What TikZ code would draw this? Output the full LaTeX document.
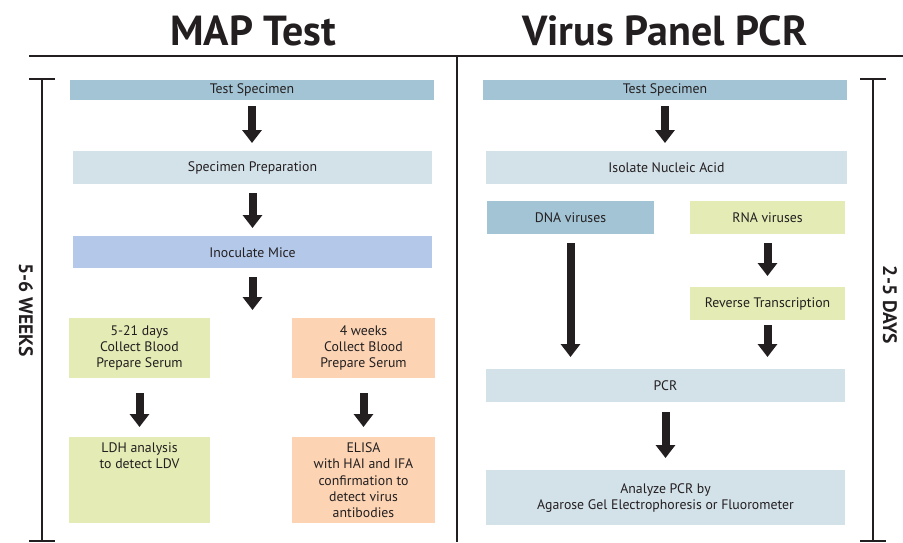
\documentclass[tikz,border=0pt]{standalone}
\usepackage{fontspec}
\setmainfont{PT Sans}
\usetikzlibrary{arrows.meta,positioning}
\definecolor{ink}{HTML}{231F20}
\definecolor{steel}{HTML}{A3C4D4}
\definecolor{pale}{HTML}{D3E1E9}
\definecolor{lav}{HTML}{B4C9E9}
\definecolor{lime}{HTML}{E4EBB4}
\definecolor{peach}{HTML}{FCD4B4}
\tikzset{
  box/.style={rectangle, inner sep=2pt, align=center, anchor=north, text=ink,
    font=\fontsize{13.8}{16.2}\selectfont},
  flow/.style={-{Triangle[width=19pt,length=13pt]}, line width=8pt, ink,
    shorten <=6pt, shorten >=8pt},
  rule/.style={line width=2.2pt, ink},
  title/.style={anchor=base, text=ink, font=\fontsize{42}{44}\selectfont\bfseries},
  side/.style={rotate=-90, text=ink, font=\fontsize{19.5}{20}\selectfont\bfseries}
}
\begin{document}
\begin{tikzpicture}[x=1pt, y=-1pt, line join=miter, line cap=butt]
	\useasboundingbox (0,0) rectangle (903,542);
	\path
	(29,56) coordinate (L)
	(903,56) coordinate (R)
	(457,56) coordinate (D)
	(457,542) coordinate (D')
	;
	% frame
	\draw[rule] (L) -- (R);
	\draw[rule] (D) -- (D');
	\foreach \x in {42,873}{
		\draw[rule] (\x,79) -- (\x,541);
		\draw[rule] (\x-13,79) -- (\x+13,79);
		\draw[rule] (\x-13,541) -- (\x+13,541);
	}
	\node[title] (map) at (253,45) {MAP Test};
	\node[title] (vpp) at (665,45) {Virus Panel PCR};
	\node[side] (weeks) at (26,310) {5-6 WEEKS};
	\node[side] (days) at (890,305) {2-5 DAYS};
	
	% MAP test
	\node[box, fill=steel, minimum width=364, minimum height=20] (ts1) at (252,80) {Test Specimen};
	\node[box, fill=pale, minimum width=359, minimum height=33] (prep) at (252.5,151) {Specimen Preparation};
	\node[box, fill=lav, minimum width=359, minimum height=32] (mice) at (252.5,236) {Inoculate Mice};
	\node[box, fill=lime, minimum width=141, minimum height=60] (blood1) at (139.5,318) {5-21 days\\Collect Blood\\Prepare Serum};
	\node[box, fill=peach, minimum width=143, minimum height=60] (blood2) at (363.5,318) {4 weeks\\Collect Blood\\Prepare Serum};
	\node[box, fill=lime, minimum width=141, minimum height=86] (ldh) at (139.5,437) {LDH analysis\\to detect LDV\\~\\~\\~};
	\node[box, fill=peach, minimum width=143, minimum height=86] (elisa) at (363.5,437) {ELISA\\with HAI and IFA\\confirmation to\\detect virus\\antibodies};
	\coordinate (split) at (mice.south |- blood1.north);
	
	\draw[flow] (ts1.south) -- (ts1.south |- prep.north);
	\draw[flow, shorten <=9pt] (prep) -- (mice);
	\draw[flow, shorten <=9pt] (mice) -- (split);
	\draw[flow, shorten <=15pt, shorten >=10pt] (blood1) -- (ldh);
	\draw[flow, shorten <=15pt, shorten >=10pt] (blood2) -- (elisa);
	
	% virus panel PCR
	\node[box, fill=steel, minimum width=364, minimum height=20] (ts2) at (665,80) {Test Specimen};
	\node[box, fill=pale, minimum width=361, minimum height=33] (iso) at (666.5,151) {Isolate Nucleic Acid};
	\node[box, fill=steel, minimum width=167, minimum height=33] (dna) at (570.5,201) {DNA viruses};
	\node[box, fill=lime, minimum width=155, minimum height=33] (rna) at (767.5,201) {RNA viruses};
	\node[box, fill=lime, minimum width=155, minimum height=33] (rt) at (767.5,287) {Reverse Transcription};
	\node[box, fill=pale, minimum width=359, minimum height=33] (pcr) at (665.5,369) {PCR};
	\node[box, fill=pale, minimum width=359, minimum height=55] (gel) at (665.5,470) {Analyze PCR by\\Agarose Gel Electrophoresis or Fluorometer};
	
	\draw[flow] (ts2.south) -- (ts2.south |- iso.north);
	\draw[flow, shorten <=9pt, shorten >=12pt] (dna.south) -- (dna.south |- pcr.north);
	\draw[flow, shorten <=9pt, shorten >=11pt] (rna) -- (rt);
	\draw[flow, shorten <=5pt, shorten >=12pt] (rt.south) -- (rt.south |- pcr.north);
	\draw[flow, shorten <=10pt, shorten >=12pt] (pcr.south) -- (pcr.south |- gel.north);
\end{tikzpicture}
\end{document}
